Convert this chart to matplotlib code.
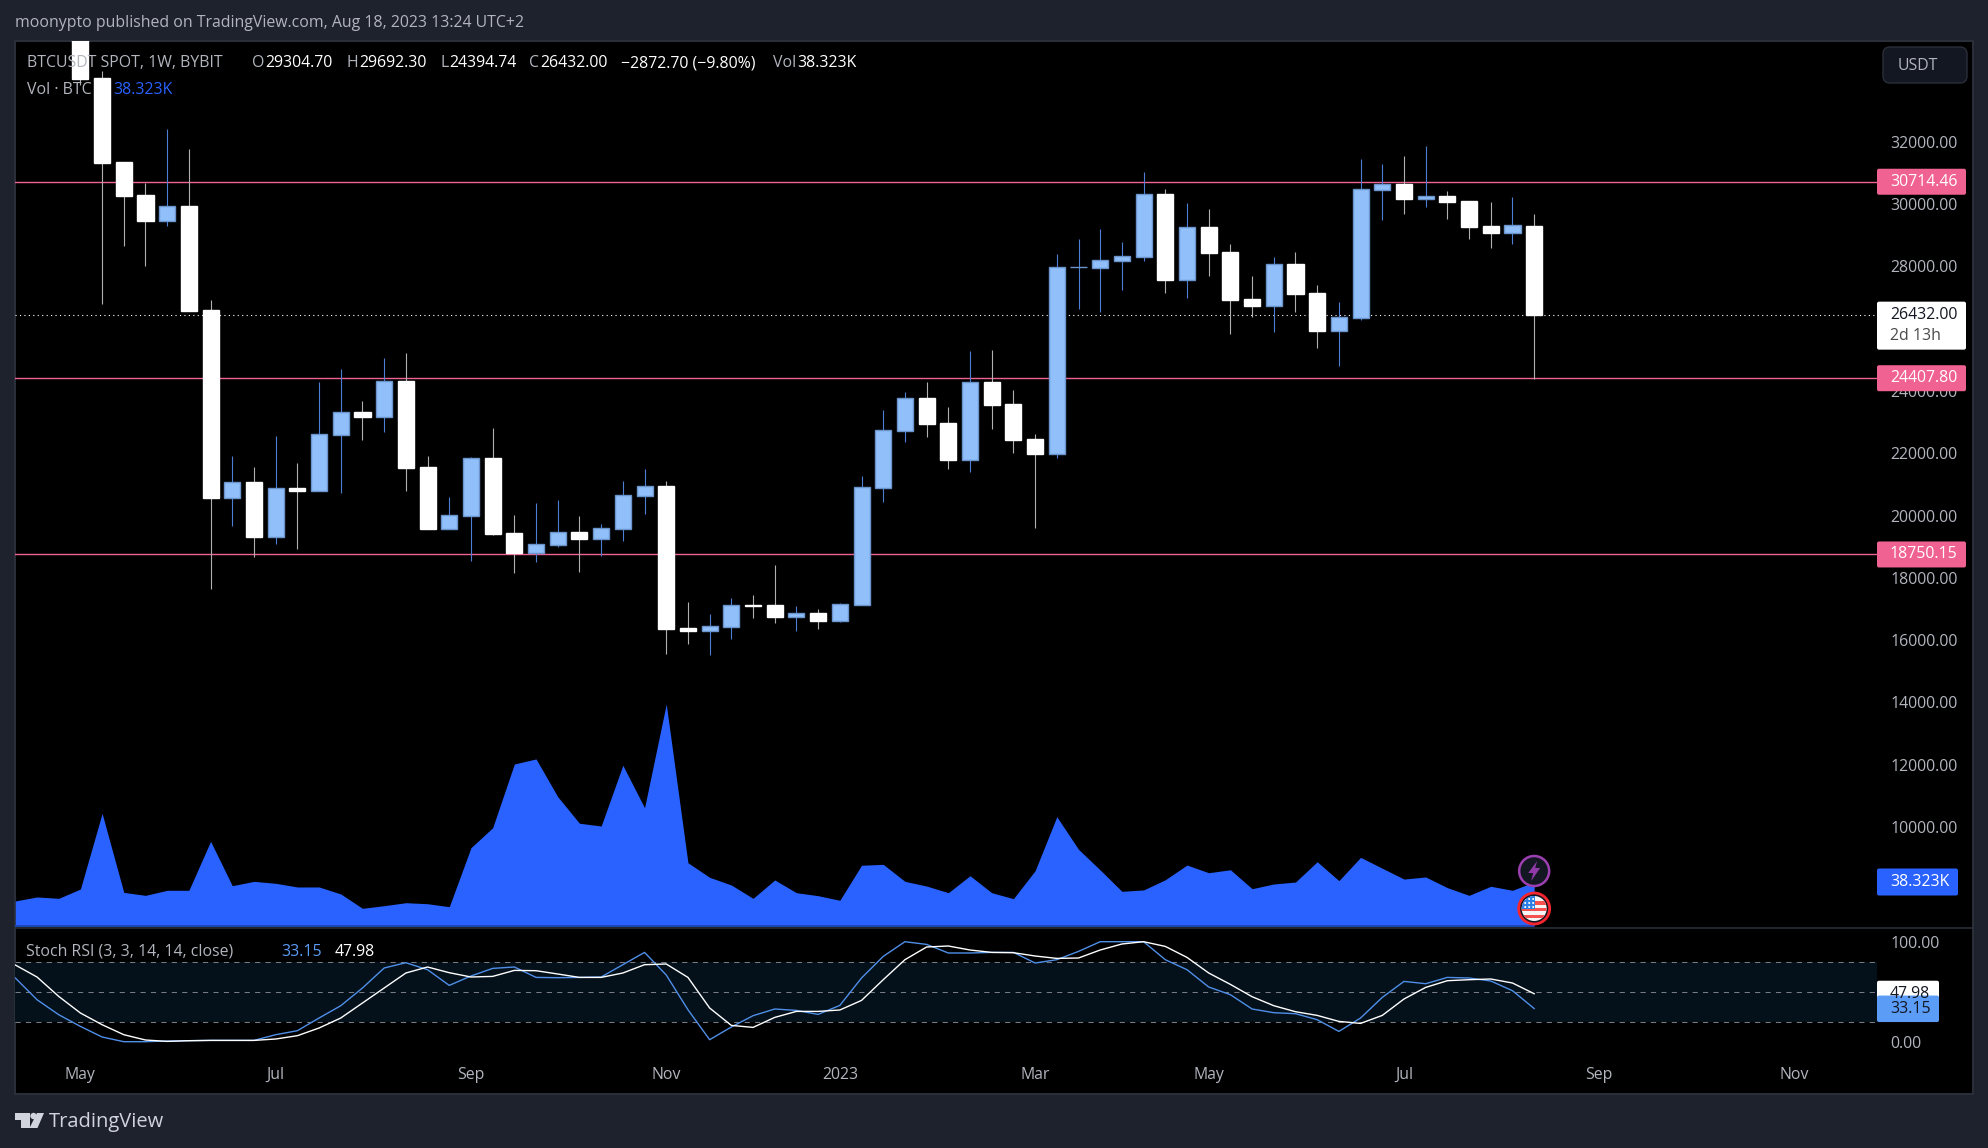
import matplotlib
matplotlib.use('Agg')
import matplotlib.pyplot as plt
import numpy as np
from matplotlib.patches import Circle, FancyBboxPatch, Polygon, Rectangle
from matplotlib.transforms import Affine2D

plt.rcParams['font.family'] = ['Open Sans', 'DejaVu Sans']

# weekly candles, first one visible is index 0
opens = [35586,34045,31350,30289,29464,29936,26597,20572,21076,19320,20885,20797,22595,23323,23172,24318,21558,
         19577,19985,21847,19439,18807,19064,19471,19247,19577,20637,20948,16390,16303,16432,17118,17129,16752,
         16871,16615,17129,20893,22723,23773,22970,21792,24286,23580,22456,21985,27968,27955,28180,28309,30321,
         27570,29262,28459,26950,26736,28074,27143,25934,26350,30459,30642,30170,30257,30096,29294,29079,29304.70]
closes = [34013,31326,30267,29464,29936,26575,20563,21076,19311,20874,20787,22607,23314,23163,24309,21526,19568,
          20007,21837,19407,18797,19076,19462,19247,19590,20649,20938,16357,16293,16454,17118,17100,16743,16871,
          16615,17160,20906,22736,23763,22938,21782,24277,23548,22424,21975,27968,27985,28193,28321,30312,27561,
          29252,28427,26918,26726,28065,27111,25923,26363,30472,30632,30161,30247,30064,29262,29069,29316,26432.00]
highs = [36500,34270,31350,30674,32408,31766,26918,21911,21558,22553,21686,24286,24704,23676,25057,25217,21911,
         20595,21870,22810,20017,20402,20498,19985,19728,21108,21494,21108,17224,16839,17353,17449,18412,17096,
         17000,17192,21269,23387,23965,24286,23484,25281,25313,24030,22617,28395,28877,29198,28780,31027,30482,
         30032,29840,28716,27689,28299,28459,27400,26854,31445,31284,31541,31862,30417,30096,30064,30225,29692.30]
lows = [33820,26800,28662,28020,29304,26575,17651,19674,18678,19086,18935,20797,20723,22424,22681,20787,19568,
        19577,18550,19375,18155,18508,18990,18187,18701,19182,20049,15555,15876,15523,16037,16711,16550,16293,
        16357,16583,17129,20434,22360,22521,21494,21397,22778,22007,19600,21847,26630,26533,27240,28170,27143,
        26983,27689,25827,26373,25891,26533,25378,24800,26277,29487,29679,29904,29519,28877,28588,28716,24394.74]

# these three start 3 weeks before the first candle (left edge of the pane)
volume_k = [21.8,25.3,24.1,32.2,98.1,29.3,26.7,31.1,31.1,73.8,35.1,38.9,37.2,34.0,34.0,27.9,15.4,17.7,20.3,19.4,
            16.8,68.2,85.6,141.1,145.5,112.6,89.5,87.1,140.0,103.0,193.4,55.1,42.4,35.7,24.1,40.1,29.0,26.4,22.4,
            52.9,53.7,38.9,34.8,29.0,43.8,29.0,23.8,48.2,95.2,66.8,48.8,30.2,31.4,40.3,53.1,46.4,49.0,32.5,36.6,
            38.3,56.0,39.5,59.8,50.3,40.9,42.7,33.4,26.7,34.6,31.1,38.323]
stoch_k = [63.7,42,27,15.3,4.7,0,0,0.7,1,1.3,1.3,1.3,7,11,23.7,36,53.7,73.7,79,72,56.3,65.7,73.3,74.7,64.3,64,64.3,
           64.7,77,89.3,66.7,32,2,14.7,26,32.7,31.3,27.3,36.3,63.7,85.3,100,97.3,88.7,88.7,89.3,89.3,78.7,82,90.3,
           100,100,100,82,72,54.7,47,32.7,29,28,22,10.3,23.7,44.3,60.3,58,64.3,63.7,60.7,51,33.15]
stoch_d = [76.7,64.7,45.3,28.7,17,7,1.7,0.3,1,1.3,1.3,1.3,2.7,6,13.7,23.7,38.7,53.7,68.7,74.7,69,64.7,65.3,71.3,71,
           67.7,64.3,64.3,68.7,77,77.7,64.3,33.7,16.3,14.3,24.3,30.3,30.3,31.7,41.3,62,82,94.7,95.7,91.7,89.3,89,
           85.7,83.3,83.7,91.7,97.7,100,95.3,84.3,68.7,57.3,45,36,30,26.3,20.3,18.3,26.3,42.7,54.3,61,62,62.7,58.7,47.98]

level_prices = [30714.46, 24407.80, 18750.15]
level_labels = ['30714.46', '24407.80', '18750.15']
last_price = 26432.00
price_ticks = list(range(10000, 34000, 2000))
time_ticks = [0, 9, 18, 27, 35, 44, 52, 61, 70, 79]
time_labels = ['May', 'Jul', 'Sep', 'Nov', '2023', 'Mar', 'May', 'Jul', 'Sep', 'Nov']

# colours
PAGE = '#1e222d'
BORDER = '#2a2e39'
GREY = '#b2b5be'
PINK = '#f06292'
VOL_BLUE = '#2962ff'
K_BLUE = '#5b9cf6'

W, H = 1988, 1148
fig = plt.figure(figsize=(W / 100, H / 100), dpi=100, facecolor=PAGE)
# pixels from top left, for everything outside the plotting scales
px = Affine2D().scale(1, -1).translate(0, H)


def label(x, y, s, color=GREY, size=11.4, **kw):
    fig.text(x / W, 1 - y / H, s, color=color, fontsize=size, va='center', **kw)


def box(x0, y0, x1, y1, color, edge='none', round_px=2, zorder=4):
    p = FancyBboxPatch((x0, y0), x1 - x0, y1 - y0, boxstyle=f'round,pad=0,rounding_size={round_px}',
                       fc=color, ec=edge, lw=1, transform=px, zorder=zorder)
    fig.add_artist(p)


# black chart area with its border
fig.add_artist(Rectangle((15, 41), 1958, 1053, fc='black', ec=BORDER, lw=1.5, transform=px, zorder=-1))

ax = fig.add_axes([15 / W, 1 - 928 / H, 1862 / W, 887 / H], facecolor='none')
ax_vol = fig.add_axes([15 / W, 1 - 928 / H, 1862 / W, 887 / H], facecolor='none')
ax_rsi = fig.add_axes([15 / W, 1 - 1060 / H, 1862 / W, 132 / H], facecolor='none')

xlim = (-3.014, 82.8)
for a in (ax, ax_vol, ax_rsi):
    a.set_xlim(*xlim)
    for s in a.spines.values():
        s.set_visible(False)

# price pane
ax.set_ylim(6760, 35232)
xs = np.arange(len(opens))
for i in xs:
    up = closes[i] >= opens[i]
    ax.vlines(i, lows[i], highs[i], color='#4a7fd4' if up else '#b0b0b0', lw=0.8, zorder=2)
    ax.bar(i, abs(closes[i] - opens[i]), bottom=min(opens[i], closes[i]), width=0.74,
           facecolor='#90bff9' if up else 'white', edgecolor='#6a94cb' if up else 'white', linewidth=1.0, zorder=3)
for p in level_prices:
    ax.axhline(p, color=PINK, lw=1.0, zorder=1)
ax.axhline(last_price, color='white', lw=0.8, linestyle=(0, (1, 3)), zorder=1)
ax.yaxis.tick_right()
ax.set_yticks(price_ticks)
ax.set_yticklabels([f'{t:.2f}' for t in price_ticks])
ax.tick_params(axis='y', length=0, pad=9.4, labelcolor=GREY, labelsize=11.4)
ax.set_xticks([])

# volume area, same pane
ax_vol.set_ylim(-1.74, 770.8)
vol_x = np.arange(len(volume_k)) - 3
ax_vol.fill_between(vol_x, 0, volume_k, color=VOL_BLUE, lw=0, zorder=2)
ax_vol.hlines(0, vol_x[0], vol_x[-1], color='#1c46b4', lw=1.4, zorder=3)
ax_vol.set_xticks([])
ax_vol.set_yticks([])

# stoch rsi pane
ax_rsi.set_ylim(-18.3, 113.7)
ax_rsi.axhspan(20, 80, color='#04101a', lw=0, zorder=1)
for v in (20, 50, 80):
    ax_rsi.axhline(v, color='#787b86', lw=0.75, linestyle=(0, (5, 5)), zorder=2)
rsi_x = np.arange(len(stoch_k)) - 3
ax_rsi.plot(rsi_x, stoch_k, color='#4f8fe8', lw=1.0, zorder=3)
ax_rsi.plot(rsi_x, stoch_d, color='white', lw=1.0, zorder=4)
ax_rsi.yaxis.tick_right()
ax_rsi.set_yticks([0, 100])
ax_rsi.set_yticklabels(['0.00', '100.00'])
ax_rsi.tick_params(axis='y', length=0, pad=9.4, labelcolor=GREY, labelsize=11.4)
ax_rsi.set_xticks(time_ticks)
ax_rsi.set_xticklabels(time_labels)
ax_rsi.tick_params(axis='x', length=0, pad=5, labelcolor=GREY, labelsize=11.4)

# separator between price and stoch panes
fig.add_artist(plt.Line2D([15, 1973], [928, 928], color=BORDER, lw=1.2, transform=px, zorder=1))


def price_y(a, v):
    return H - a.transData.transform((0, v))[1]


# price scale labels
for p, t in zip(level_prices, level_labels):
    y = price_y(ax, p)
    box(1877, y - 13, 1966, y + 13, PINK)
    label(1890, y, t, color='white', zorder=5)

y = price_y(ax, last_price)
box(1877, y - 13.5, 1966, y + 34.5, 'white')
label(1890, y, '26432.00', color='#131722', zorder=5)
label(1890, y + 21, '2d 13h', color='#4a4a4a', zorder=5)

y = price_y(ax_vol, volume_k[-1])
box(1877, y - 13.5, 1958, y + 13.5, VOL_BLUE)
label(1890, y, '38.323K', color='white', zorder=5)

y = price_y(ax_rsi, stoch_d[-1])
box(1877, y - 13, 1939, y + 13.5, 'white')
label(1890, y, '47.98', color='#131722', zorder=5)
y = price_y(ax_rsi, stoch_k[-1])
box(1877, y - 13, 1939, y + 13.5, K_BLUE)
label(1890, y, '33.15', color='#131722', zorder=5)

# USDT button
box(1883, 47, 1967, 83, '#131722', edge=BORDER, round_px=7)
label(1898, 66, 'USDT', color=GREY, zorder=5)

# header and legends
label(15, 23, 'moonypto published on TradingView.com, Aug 18, 2023 13:24 UTC+2')
label(27, 63, 'BTCUSDT SPOT, 1W, BYBIT', zorder=5)
for x, s, c in [(252, 'O', GREY), (265.6, '29304.70', 'white'), (347, 'H', GREY), (359, '29692.30', 'white'),
                (440, 'L', GREY), (449, '24394.74', 'white'), (529, 'C', GREY), (540, '26432.00', 'white'),
                (621, '\u22122872.70 (\u22129.80%)', 'white'), (772.7, 'Vol', GREY), (797.3, '38.323K', 'white')]:
    label(x, 63, s, color=c, zorder=5)
label(27, 90, 'Vol \u00b7 BTC', zorder=5)
label(113.4, 90, '38.323K', color=VOL_BLUE, zorder=5)
label(26.5, 952, 'Stoch RSI (3, 3, 14, 14, close)', zorder=5)
label(281, 952, '33.15', color=K_BLUE, zorder=5)
label(334.7, 952, '47.98', color='white', zorder=5)

# event icons on the last bar
cx = ax.transData.transform((xs[-1], 0))[0]
fig.add_artist(Circle((cx, 871), 15, fc='#131722', ec='#9c3fb0', lw=1.8, transform=px, zorder=6))
bolt = [(cx + 3, 861), (cx - 6, 873), (cx - 1, 873), (cx - 3, 881), (cx + 6, 868), (cx + 1, 868)]
fig.add_artist(Polygon(bolt, fc='#8f3aa8', ec='none', transform=px, zorder=7))

fig.add_artist(Circle((cx, 908.5), 15.5, fc='#131722', ec='#f7252f', lw=2.0, transform=px, zorder=6))
disc = Circle((cx, 908.5), 12.5, transform=px)
flag = [Rectangle((cx - 13, 896), 26, 25, fc='#f5f5f5', ec='none', transform=px, zorder=7)]
for sy in (901, 907.5, 914.5):
    flag.append(Rectangle((cx - 13, sy), 26, 3.5, fc='#f5524f', ec='none', transform=px, zorder=8))
flag.append(Rectangle((cx - 13, 896), 14, 13, fc='#2b80e8', ec='none', transform=px, zorder=9))
for dx in (-9, -5, -1):
    for dy in (899, 903, 907):
        flag.append(Circle((cx + dx, dy), 1, fc='white', ec='none', transform=px, zorder=10))
for f in flag:
    fig.add_artist(f)
    f.set_clip_path(disc)

# TradingView logo
logo = '#d1d4dc'
fig.add_artist(Polygon([(15, 1113), (29.5, 1113), (29.5, 1128), (21, 1128), (21, 1119.5), (15, 1119.5)],
                       fc=logo, ec='none', transform=px))
fig.add_artist(Circle((33.5, 1116), 3.2, fc=logo, ec='none', transform=px))
fig.add_artist(Polygon([(37, 1113), (44, 1113), (37.5, 1128), (29.5, 1128)], fc=logo, ec='none', transform=px))
label(49.3, 1122, 'TradingView', color=logo, size=14.5)

fig.savefig('out.png', dpi=100, facecolor=PAGE)
